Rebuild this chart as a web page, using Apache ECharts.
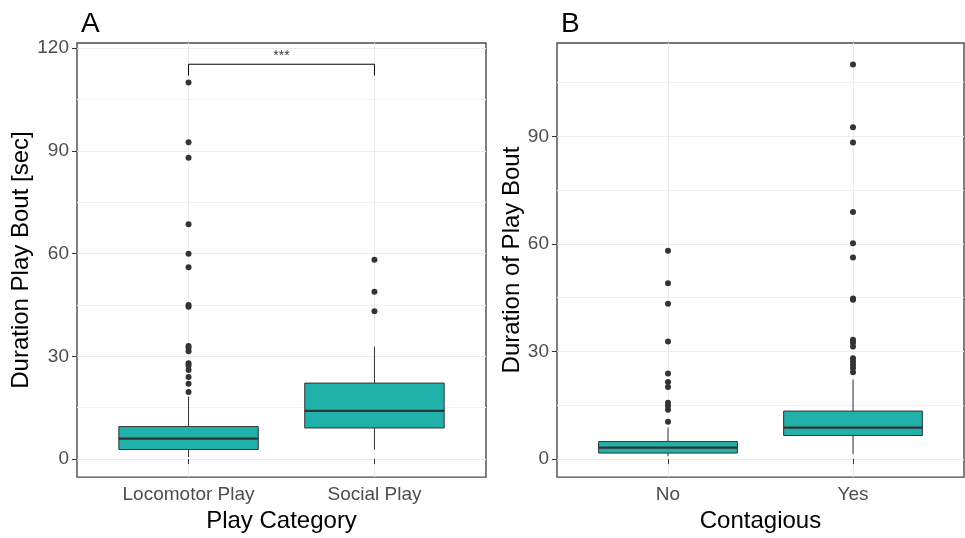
<!DOCTYPE html>
<html>
<head>
<meta charset="utf-8">
<script src="https://cdn.jsdelivr.net/npm/echarts@6/dist/echarts.min.js"></script>
<style>html,body{margin:0;padding:0;background:#fff}#c{width:965px;height:538px}</style>
</head>
<body>
<div id="c"></div>
<script>
// ---- Data ----
const catsA = ['Locomotor Play', 'Social Play'];
// [whiskerLow, Q1, median, Q3, whiskerHigh]
const boxLocomotor = [0.6, 2.8, 6.0, 9.5, 18.2];
const boxSocial = [2.8, 9.1, 14.1, 22.2, 32.8];
const outLocomotor = [110, 92.5, 88, 68.6, 60, 56, 45, 44.5, 33, 32.5, 31.5, 28, 27.3, 26, 24, 22, 19.6];
const outSocial = [58.2, 48.9, 43.2];
const sigBracket = { from: 1, to: 2, top: 115.3, tipLow: 112, label: '***' };

const catsB = ['No', 'Yes'];
const boxNo = [0.8, 1.7, 3.2, 4.9, 8.8];
const boxYes = [1.4, 6.6, 8.8, 13.4, 22.2];
const outNo = [58.1, 49.0, 43.3, 32.8, 23.9, 21.5, 20.1, 15.7, 14.8, 13.8, 10.4];
const outYes = [110, 92.5, 88.3, 68.9, 60.2, 56.2, 44.8, 44.4, 33.3, 32.5, 31.4, 28.1, 27.2, 26.3, 25.4, 24.2];

const ticksA = [0, 30, 60, 90, 120];
const minorA = [15, 45, 75, 105];
const ticksB = [0, 30, 60, 90];
const minorB = [15, 45, 75, 105];

// ---- Styling ----
const FONT = 'Liberation Sans, Arial, sans-serif';
const DARK = '#333333';
const FILL = '#20B2AA';
const GRIDC = '#EBEBEB';

function renderBox(params, api) {
  const x = api.value(0);
  const lo = api.coord([x, api.value(1)]);
  const q1 = api.coord([x, api.value(2)]);
  const md = api.coord([x, api.value(3)]);
  const q3 = api.coord([x, api.value(4)]);
  const hi = api.coord([x, api.value(5)]);
  const w = api.size([0.75, 0])[0];
  const cx = q1[0];
  const st = { stroke: DARK, lineWidth: 1 };
  return {
    type: 'group',
    children: [
      { type: 'line', shape: { x1: cx, y1: hi[1], x2: cx, y2: q3[1] }, style: st },
      { type: 'line', shape: { x1: cx, y1: q1[1], x2: cx, y2: lo[1] }, style: st },
      { type: 'rect', shape: { x: cx - w / 2, y: q3[1], width: w, height: q1[1] - q3[1] },
        style: { fill: FILL, stroke: DARK, lineWidth: 1 } },
      { type: 'line', shape: { x1: cx - w / 2, y1: md[1], x2: cx + w / 2, y2: md[1] },
        style: { stroke: DARK, lineWidth: 2.2 } }
    ]
  };
}

function makeX(gi, cats, name) {
  return {
    type: 'value', gridIndex: gi, min: 0.4, max: 2.6,
    name: name, nameLocation: 'middle', nameGap: 28,
    nameTextStyle: { fontFamily: FONT, fontSize: 24, color: '#000' },
    axisLine: { show: false },
    axisTick: { show: true, length: 5, lineStyle: { color: DARK }, customValues: [1, 2] },
    axisLabel: { customValues: [1, 2], margin: 8, fontFamily: FONT, fontSize: 19, color: '#4D4D4D',
      formatter: v => cats[Math.round(v) - 1] },
    splitLine: { show: true, lineStyle: { color: GRIDC, width: 1 } }
  };
}
function makeY(gi, min, max, ticks, name, gap) {
  return {
    type: 'value', gridIndex: gi, min: min, max: max,
    name: name, nameLocation: 'middle', nameGap: gap,
    nameTextStyle: { fontFamily: FONT, fontSize: 24, color: '#000' },
    axisLine: { show: false },
    axisTick: { show: true, length: 5, lineStyle: { color: DARK }, customValues: ticks },
    axisLabel: { customValues: ticks, margin: 8, fontFamily: FONT, fontSize: 19, color: '#4D4D4D' },
    splitLine: { show: true, lineStyle: { color: GRIDC, width: 1 } }
  };
}
function makeYMinor(gi, min, max, minor) {
  return {
    type: 'value', gridIndex: gi, min: min, max: max,
    axisLine: { show: false },
    axisTick: { show: false, customValues: minor },
    axisLabel: { show: false, customValues: minor },
    splitLine: { show: true, lineStyle: { color: '#F1F1F1', width: 1 } }
  };
}

const chart = echarts.init(document.getElementById('c'), null, { renderer: 'canvas' });
chart.setOption({
  animation: false,
  backgroundColor: '#fff',
  title: [
    { text: 'A', left: 76, top: 5, textStyle: { fontFamily: FONT, fontSize: 28, fontWeight: 'normal', color: '#000' } },
    { text: 'B', left: 556, top: 5, textStyle: { fontFamily: FONT, fontSize: 28, fontWeight: 'normal', color: '#000' } }
  ],
  grid: [
    { left: 77, top: 43, width: 409, height: 437, show: true, borderColor: '#4a4a4a', borderWidth: 1.4, backgroundColor: 'transparent' },
    { left: 557, top: 43, width: 407, height: 437, show: true, borderColor: '#4a4a4a', borderWidth: 1.4, backgroundColor: 'transparent' }
  ],
  xAxis: [makeX(0, catsA, 'Play Category'), makeX(1, catsB, 'Contagious')],
  yAxis: [
    makeY(0, -5.25, 121.5, ticksA, 'Duration Play Bout [sec]', 42),
    makeYMinor(0, -5.25, 121.5, minorA),
    makeY(1, -5, 116, ticksB, 'Duration of Play Bout', 33),
    makeYMinor(1, -5, 116, minorB)
  ],
  series: [
    { type: 'custom', xAxisIndex: 0, yAxisIndex: 0, renderItem: renderBox,
      encode: { x: 0, y: [1, 2, 3, 4, 5] },
      data: [[1].concat(boxLocomotor), [2].concat(boxSocial)], z: 3 },
    { type: 'scatter', xAxisIndex: 0, yAxisIndex: 0, symbolSize: 6, itemStyle: { color: DARK, opacity: 1 },
      data: outLocomotor.map(v => [1, v]).concat(outSocial.map(v => [2, v])), z: 4 },
    { type: 'line', xAxisIndex: 0, yAxisIndex: 0, symbol: 'none',
      lineStyle: { color: '#000', width: 1 },
      data: [[sigBracket.from, sigBracket.tipLow], [sigBracket.from, sigBracket.top],
             [sigBracket.to, sigBracket.top], [sigBracket.to, sigBracket.tipLow]], z: 4 },
    { type: 'scatter', xAxisIndex: 0, yAxisIndex: 0, symbolSize: 0,
      label: { show: true, position: 'top', distance: 1, formatter: sigBracket.label,
        fontFamily: FONT, fontSize: 14, color: '#000' },
      data: [[(sigBracket.from + sigBracket.to) / 2, sigBracket.top]], z: 4 },
    { type: 'custom', xAxisIndex: 1, yAxisIndex: 2, renderItem: renderBox,
      encode: { x: 0, y: [1, 2, 3, 4, 5] },
      data: [[1].concat(boxNo), [2].concat(boxYes)], z: 3 },
    { type: 'scatter', xAxisIndex: 1, yAxisIndex: 2, symbolSize: 6, itemStyle: { color: DARK, opacity: 1 },
      data: outNo.map(v => [1, v]).concat(outYes.map(v => [2, v])), z: 4 }
  ]
});
</script>
</body>
</html>
